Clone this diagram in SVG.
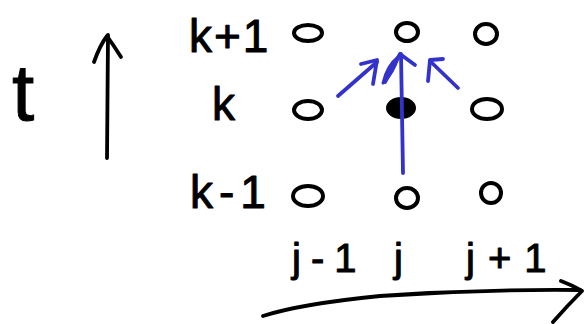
<svg xmlns="http://www.w3.org/2000/svg" width="587" height="324" viewBox="0 0 587 324">
<style>
.lbl{font-family:"Liberation Sans",Arial,sans-serif;fill:#000;stroke:#000;stroke-width:1;stroke-linejoin:round}
.node{fill:none;stroke:#000;stroke-width:4}
.ink{fill:none;stroke:#000;stroke-width:3.8;stroke-linecap:round;stroke-linejoin:round}
.blue{fill:none;stroke:#3333cc;stroke-width:3.8;stroke-linecap:round;stroke-linejoin:round}
</style>
<rect width="587" height="324" fill="#fff"/>
<g id="axis-t">
<text class="lbl" x="12" y="120" font-size="80" stroke-width="1.5">t</text>
</g>
<g id="row-labels">
<text class="lbl" x="189" y="52" font-size="46" letter-spacing="2">k+1</text>
<text class="lbl" x="212" y="120" font-size="46">k</text>
<text class="lbl" x="190" y="208" font-size="46" letter-spacing="6">k-1</text>
</g>
<g id="col-labels">
<text class="lbl" x="292" y="272" font-size="40" letter-spacing="10">j-1</text>
<text class="lbl" x="394" y="272" font-size="40">j</text>
<text class="lbl" x="466" y="272" font-size="40" letter-spacing="13">j+1</text>
</g>
<g id="n-kp1-jm1"><ellipse class="node" cx="308" cy="33" rx="14" ry="8"/></g>
<g id="n-kp1-j"><ellipse class="node" cx="407" cy="32" rx="11" ry="9"/></g>
<g id="n-kp1-jp1"><ellipse class="node" cx="486" cy="34" rx="11" ry="10"/></g>
<g id="n-k-jm1"><ellipse class="node" cx="308" cy="110" rx="14" ry="9"/></g>
<g id="n-k-j"><ellipse cx="401" cy="108" rx="15" ry="11" fill="#000"/></g>
<g id="n-k-jp1"><ellipse class="node" cx="487" cy="109" rx="15" ry="10"/></g>
<g id="n-km1-jm1"><ellipse class="node" cx="308" cy="196" rx="15" ry="10"/></g>
<g id="n-km1-j"><ellipse class="node" cx="407" cy="198" rx="11" ry="10"/></g>
<g id="n-km1-jp1"><ellipse class="node" cx="491" cy="193" rx="10" ry="10"/></g>
<g id="connectors">
<path class="ink" d="M107 158 L108 35"/>
<path class="ink" d="M94 62 Q100 45 107 36 Q114 46 121 57"/>
<path class="ink" d="M263 316 Q300 304 380 296 Q480 289 580 290"/>
<path class="ink" d="M561 281 Q572 285 582 291 Q568 305 553 322"/>
<path class="blue" d="M403 173 L401 54"/>
<path class="blue" d="M385 82 L400 54 L415 65"/>
<path d="M383 83 Q387 66 398 57 Q394 72 383 83 Z" fill="#3333cc" stroke="#3333cc" stroke-width="3" stroke-linejoin="round"/>
<path class="blue" d="M338 96 L377 62"/>
<path class="blue" d="M361 64 L377 60 L373 84"/>
<path class="blue" d="M458 88 L430 61"/>
<path class="blue" d="M443 59 L430 60 L428 81"/>
</g>
</svg>
